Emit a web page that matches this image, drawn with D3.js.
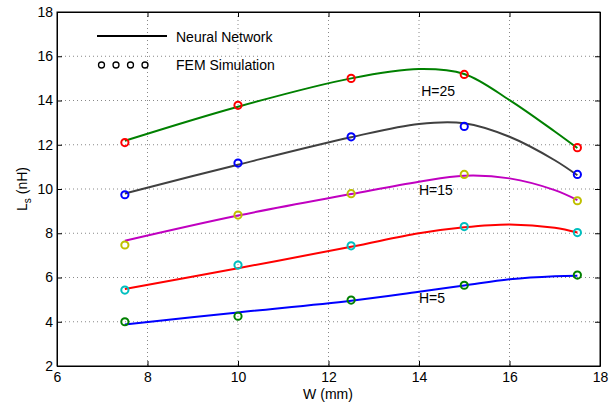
<!DOCTYPE html>
<html>
<head>
<meta charset="utf-8">
<script src="https://cdn.jsdelivr.net/npm/d3@7"></script>
<style>
  body { margin: 0; background: #fff; }
  svg text { font-family: "Liberation Sans", Arial, sans-serif; }
</style>
</head>
<body>
<svg id="chart" width="609" height="408"></svg>
<script>
// FEM sample widths and values
const femW = [7.5, 10, 12.5, 15, 17.5]
const femH25 = [12.1, 13.78, 15.0, 15.18, 11.87]
const femH20 = [9.74, 11.17, 12.36, 12.83, 10.66]
const femH15 = [7.47, 8.82, 9.79, 10.66, 9.47]
const femH10 = [5.43, 6.56, 7.43, 8.3, 8.03]
const femH5 = [4.0, 4.25, 4.98, 5.65, 6.11]

// neural network curves, read at these widths
const nnW = [7.5, 10, 12.5, 14, 15, 16, 17, 17.5]
const nnH25 = [12.18, 13.72, 15.0, 15.42, 15.2, 14.02, 12.6, 11.85]
const nnH20 = [9.8, 11.1, 12.34, 12.94, 12.97, 12.36, 11.3, 10.62]
const nnH15 = [7.66, 8.8, 9.77, 10.33, 10.6, 10.48, 9.95, 9.5]
const nnH10 = [5.48, 6.42, 7.39, 8.0, 8.27, 8.4, 8.25, 8.03]
const nnH5 = [3.88, 4.42, 4.95, 5.36, 5.64, 5.92, 6.06, 6.08]

const xTicks = [6, 8, 10, 12, 14, 16, 18]
const yTicks = [2, 4, 6, 8, 10, 12, 14, 16, 18]

const curveLabels = [
  {text: 'H=25', w: 14.05, v: 14.43},
  {text: 'H=15', w: 14.0, v: 9.95},
  {text: 'H=5', w: 14.0, v: 5.07}
]

const svg = d3.select('#chart')
const mLeft = 57, mRight = 600, mTop = 12, mBottom = 366
const fs = '14px'

const x = d3.scaleLinear().domain([6, 18]).range([mLeft, mRight])
const y = d3.scaleLinear().domain([2, 18]).range([mBottom, mTop])

// dotted grid
const grid = svg.append('g')
grid.selectAll('.gx')
  .data(xTicks.slice(1, -1))
  .enter().append('line')
  .attr('x1', d => x(d)).attr('x2', d => x(d))
  .attr('y1', mTop).attr('y2', mBottom)
  .attr('stroke', '#888').attr('stroke-width', 1)
  .attr('stroke-dasharray', '1,3')
grid.selectAll('.gy')
  .data(yTicks.slice(1, -1))
  .enter().append('line')
  .attr('x1', mLeft).attr('x2', mRight)
  .attr('y1', d => y(d)).attr('y2', d => y(d))
  .attr('stroke', '#888').attr('stroke-width', 1)
  .attr('stroke-dasharray', '1,3')

// axes, matlab style ticks pointing inward
svg.append('g')
  .attr('transform', 'translate(0,' + mBottom + ')')
  .call(d3.axisBottom(x).tickValues(xTicks).tickSizeInner(-5).tickSizeOuter(0).tickPadding(6))
svg.append('g')
  .attr('transform', 'translate(0,' + mTop + ')')
  .call(d3.axisTop(x).tickValues(xTicks).tickSizeInner(-5).tickSizeOuter(0).tickFormat(''))
svg.append('g')
  .attr('transform', 'translate(' + mLeft + ',0)')
  .call(d3.axisLeft(y).tickValues(yTicks).tickSizeInner(-5).tickSizeOuter(0).tickPadding(4))
svg.append('g')
  .attr('transform', 'translate(' + mRight + ',0)')
  .call(d3.axisRight(y).tickValues(yTicks).tickSizeInner(-5).tickSizeOuter(0).tickFormat(''))

svg.selectAll('.domain').attr('stroke', '#000').attr('stroke-width', 1)
svg.selectAll('.tick line').attr('stroke', '#000')
svg.selectAll('.tick text').style('font-size', fs).attr('fill', '#000')

svg.append('rect')
  .attr('x', mLeft).attr('y', mTop)
  .attr('width', mRight - mLeft).attr('height', mBottom - mTop)
  .attr('fill', 'none').attr('stroke', '#000').attr('stroke-width', 1)

// curves
const line = d3.line()
  .x((d, i) => x(nnW[i]))
  .y(d => y(d))
  .curve(d3.curveCatmullRom.alpha(0.5))

const nnSeries = [
  {vals: nnH25, color: '#008000'},
  {vals: nnH20, color: '#404040'},
  {vals: nnH15, color: '#c000c0'},
  {vals: nnH10, color: '#ff0000'},
  {vals: nnH5, color: '#0000ff'}
]
nnSeries.forEach(s => {
  svg.append('path')
    .datum(s.vals)
    .attr('fill', 'none')
    .attr('stroke', s.color)
    .attr('stroke-width', 2)
    .attr('d', line)
})

const femSeries = [
  {vals: femH25, color: '#ff0000'},
  {vals: femH20, color: '#0000ff'},
  {vals: femH15, color: '#bfbf00'},
  {vals: femH10, color: '#00bfbf'},
  {vals: femH5, color: '#008000'}
]
femSeries.forEach(s => {
  svg.append('g').selectAll('circle')
    .data(s.vals)
    .enter().append('circle')
    .attr('cx', (d, i) => x(femW[i]))
    .attr('cy', d => y(d))
    .attr('r', 3.6)
    .attr('fill', 'none')
    .attr('stroke', s.color)
    .attr('stroke-width', 2)
})

// curve labels
svg.selectAll('.clab')
  .data(curveLabels)
  .enter().append('text')
  .attr('x', d => x(d.w))
  .attr('y', d => y(d.v))
  .attr('dy', '0.36em')
  .style('font-size', fs)
  .text(d => d.text)

// legend
svg.append('line')
  .attr('x1', 97).attr('x2', 167)
  .attr('y1', 36).attr('y2', 36)
  .attr('stroke', '#000').attr('stroke-width', 2)
svg.append('text')
  .attr('x', 176).attr('y', 37).attr('dy', '0.36em')
  .style('font-size', fs).text('Neural Network')
svg.append('g').selectAll('circle')
  .data([0, 1, 2, 3])
  .enter().append('circle')
  .attr('cx', d => 101.5 + d * 14.5)
  .attr('cy', 65)
  .attr('r', 3)
  .attr('fill', 'none')
  .attr('stroke', '#000')
  .attr('stroke-width', 1.3)
svg.append('text')
  .attr('x', 176).attr('y', 65).attr('dy', '0.36em')
  .style('font-size', fs).text('FEM Simulation')

// axis titles
svg.append('text')
  .attr('x', 328).attr('y', 399)
  .attr('text-anchor', 'middle')
  .style('font-size', fs)
  .text('W (mm)')

const yl = svg.append('text')
  .attr('transform', 'translate(27,' + ((mTop + mBottom) / 2) + ') rotate(-90)')
  .attr('text-anchor', 'middle')
  .style('font-size', fs)
yl.append('tspan').text('L')
yl.append('tspan').attr('dy', 4).style('font-size', '10px').text('s')
yl.append('tspan').attr('dy', -4).text(' (nH)')
</script>
</body>
</html>
